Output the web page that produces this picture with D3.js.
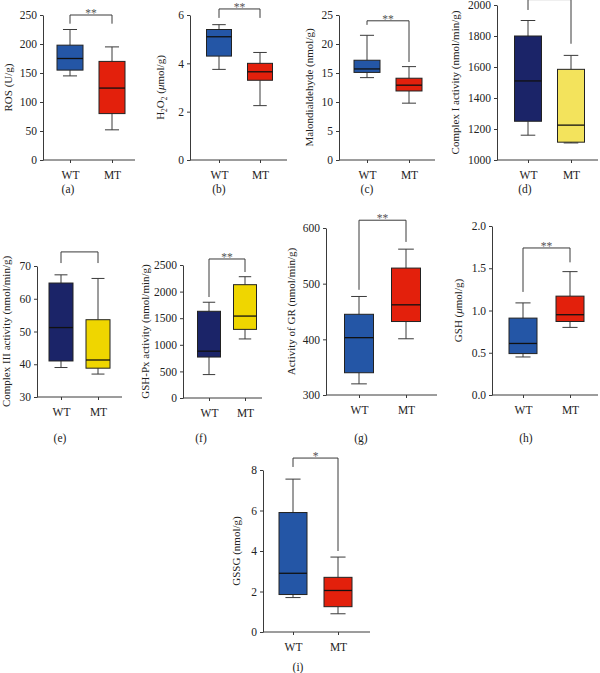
<!DOCTYPE html>
<meta charset="utf-8" />
<script src="https://d3js.org/d3.v7.min.js"></script>
<body style="margin:0;background:#fff">
<svg id="chart" width="600" height="673" style="display:block"></svg>
<script>
/* DATA -------------------------------------------------------------------- */
const groups=["WT","MT"];
const panelIds=["a","b","c","d","e","f","g","h","i"];
const yTitles=["ROS (U/g)","H2O2 (μmol/g)","Malondialdehyde (nmol/g)",
  "Complex I activity (nmol/min/g)","Complex III activity (nmol/min/g)",
  "GSH-Px activity (nmol/min/g)","Activity of GR (nmol/min/g)",
  "GSH (μmol/g)","GSSG (nmol/g)"];
const yDomains=[[0,250],[0,6],[0,25],[1000,2000],[30,70],[0,2500],[300,600],[0,2],[0,8]];
const yTickStep=[50,2,5,200,10,500,100,0.5,2];
// min, q1, median, q3, max
const wtStats=[[145,155,175,198,225],[3.75,4.3,5.1,5.4,5.6],[14.2,15.1,15.7,17.2,21.5],
  [1160,1250,1510,1800,1900],[39,41,51.2,64.8,67.3],[440,770,880,1630,1800],
  [320,340,403,445,477],[0.45,0.49,0.61,0.91,1.09],[1.7,1.85,2.9,5.9,7.55]];
const mtStats=[[52,80,124,170,195],[2.25,3.3,3.65,4.0,4.45],[9.8,11.9,12.9,14.1,16.1],
  [1110,1115,1225,1585,1675],[37,38.8,41.3,53.6,66.2],[1110,1290,1540,2130,2280],
  [401,432,462,528,562],[0.80,0.87,0.95,1.17,1.46],[0.9,1.25,2.05,2.7,3.7]];
const sigLabels=["**","**","**","","","**","**","**","*"];
// bracket: WT leg end, MT leg end, top
const brackets=[[235,235,250],[5.88,5.88,6.25],[23.3,16.9,24.0],[1968,1750,2035],
  [70.9,70.9,74.3],[1898,2368,2613],[489,575,614],[1.22,1.57,1.74],[8.15,4.0,8.59]];
const schemes=["br","br","br","ny1","ny2","ny2","br","br","br"];

/* STYLE / LAYOUT ------------------------------------------------------------ */
const colours={
  br:["#2456a6","#e3200c"],
  ny1:["#1b2468","#f3e35c"],
  ny2:["#1b2468","#efd600"]
};
const layout=[
 {x0:43,x1:135,yT:15,yB:160,wt:70,mt:112,bw:26,lx:8,cx:68,cy:193},
 {x0:190,x1:287,yT:15,yB:160,wt:219,mt:260,bw:25,lx:160,cx:219,cy:193},
 {x0:339,x1:435,yT:15,yB:160,wt:367,mt:409,bw:26,lx:309,cx:367,cy:193},
 {x0:497,x1:598,yT:5,yB:160,wt:528,mt:571,bw:27,lx:455,cx:525,cy:193},
 {x0:37,x1:122,yT:266,yB:397,wt:61,mt:98,bw:24,lx:6,cx:60,cy:442},
 {x0:183,x1:262,yT:265,yB:398,wt:209,mt:245,bw:23,lx:145,cx:201,cy:442},
 {x0:326,x1:437,yT:228,yB:395,wt:359,mt:406,bw:29,lx:291,cx:361,cy:442},
 {x0:492,x1:598,yT:226,yB:395,wt:523,mt:570,bw:28,lx:458,cx:526,cy:442},
 {x0:263,x1:370,yT:470,yB:632,wt:293,mt:338,bw:28,lx:236,cx:298,cy:671}
];
const font="'Liberation Serif','DejaVu Serif',serif";
const ink="#3a3a3a";

const svg=d3.select("#chart").style("font-family",font);

panelIds.forEach((id,i)=>{
  const L=layout[i];
  const g=svg.append("g").attr("class","panel-"+id);
  const y=d3.scaleLinear().domain(yDomains[i]).range([L.yB,L.yT]);
  const x=d3.scalePoint().domain(groups).range([L.wt,L.mt]);
  const [lo,hi]=yDomains[i],step=yTickStep[i];
  const ticks=d3.range(lo,hi+step/2,step);

  /* y axis */
  const yAx=g.append("g").attr("transform",`translate(${L.x0},0)`)
    .call(d3.axisLeft(y).tickValues(ticks).tickSize(3).tickSizeOuter(0).tickPadding(3)
      .tickFormat(step<1?d3.format(".1f"):d3.format("d")));
  yAx.selectAll("path,line").attr("stroke",ink);
  yAx.selectAll("text").attr("font-size",11.5).attr("font-family",font).attr("fill","#222");

  /* x axis */
  const xAx=g.append("g").attr("transform",`translate(0,${L.yB})`)
    .call(d3.axisBottom(x).tickSize(3).tickSizeOuter(0).tickPadding(8));
  xAx.select("path.domain").attr("d",`M${L.x0},0H${L.x1}`).attr("stroke",ink);
  xAx.selectAll("line").attr("stroke",ink);
  xAx.selectAll("text").attr("font-size",11.5).attr("font-family",font).attr("fill","#222");

  /* boxes */
  const stats=[wtStats[i],mtStats[i]];
  const cols=colours[schemes[i]];
  groups.forEach((grp,k)=>{
    const [mn,q1,md,q3,mx]=stats[k],cxp=x(grp),hw=L.bw/2,cap=L.bw*0.27;
    g.append("line").attr("x1",cxp).attr("x2",cxp).attr("y1",y(mx)).attr("y2",y(q3))
      .attr("stroke",ink).attr("stroke-width",1);
    g.append("line").attr("x1",cxp).attr("x2",cxp).attr("y1",y(q1)).attr("y2",y(mn))
      .attr("stroke",ink).attr("stroke-width",1);
    g.append("line").attr("x1",cxp-cap).attr("x2",cxp+cap).attr("y1",y(mx)).attr("y2",y(mx))
      .attr("stroke",ink).attr("stroke-width",1);
    g.append("line").attr("x1",cxp-cap).attr("x2",cxp+cap).attr("y1",y(mn)).attr("y2",y(mn))
      .attr("stroke",ink).attr("stroke-width",1);
    g.append("rect").attr("x",cxp-hw).attr("width",L.bw)
      .attr("y",y(q3)).attr("height",y(q1)-y(q3))
      .attr("fill",cols[k]).attr("stroke","#222").attr("stroke-width",1);
    g.append("line").attr("x1",cxp-hw).attr("x2",cxp+hw).attr("y1",y(md)).attr("y2",y(md))
      .attr("stroke","#111").attr("stroke-width",1.3);
  });

  /* significance bracket */
  const [bl,br,bt]=brackets[i];
  g.append("path")
    .attr("d",`M${x("WT")},${y(bl)}V${y(bt)}H${x("MT")}V${y(br)}`)
    .attr("fill","none").attr("stroke",ink).attr("stroke-width",1);
  if(sigLabels[i]) g.append("text").attr("x",(x("WT")+x("MT"))/2).attr("y",y(bt)+2)
    .attr("text-anchor","middle").attr("font-size",11.5).attr("fill","#555").text(sigLabels[i]);

  /* y title */
  const t=g.append("text")
    .attr("transform",`translate(${L.lx},${(L.yT+L.yB)/2}) rotate(-90)`)
    .attr("text-anchor","middle").attr("dominant-baseline","central")
    .attr("font-size",11).attr("fill","#222");
  if(id==="b"){
    t.append("tspan").text("H");
    t.append("tspan").attr("font-size",7.5).attr("baseline-shift","sub").text("2");
    t.append("tspan").text("O");
    t.append("tspan").attr("font-size",7.5).attr("baseline-shift","sub").text("2");
    t.append("tspan").text(" (");
    t.append("tspan").attr("font-style","italic").text("μ");
    t.append("tspan").text("mol/g)");
  }else if(id==="h"){
    t.append("tspan").text("GSH (");
    t.append("tspan").attr("font-style","italic").text("μ");
    t.append("tspan").text("mol/g)");
  }else t.text(yTitles[i]);

  /* caption */
  g.append("text").attr("x",L.cx).attr("y",L.cy).attr("text-anchor","middle")
    .attr("font-size",11.5).attr("fill","#222").text(`(${id})`);
});
</script>
</body>
